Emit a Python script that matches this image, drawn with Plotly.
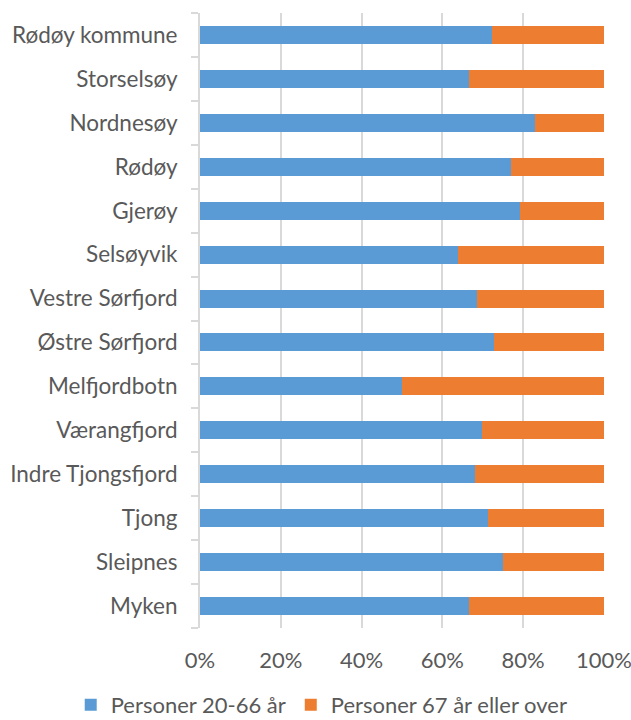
import plotly.graph_objects as go

categories = ["Rødøy kommune", "Storselsøy", "Nordnesøy", "Rødøy", "Gjerøy", "Selsøyvik",
              "Vestre Sørfjord", "Østre Sørfjord", "Melfjordbotn", "Værangfjord",
              "Indre Tjongsfjord", "Tjong", "Sleipnes", "Myken"]
working_age = [72.4, 66.7, 83.0, 77.1, 79.1, 63.8, 68.5, 72.7, 49.9, 69.7, 68.2, 71.2, 75.1, 66.7]
elderly = [round(100 - v, 1) for v in working_age]
series_names = ["Personer 20-66 år", "Personer 67 år eller over"]
x_ticks = [0, 20, 40, 60, 80, 100]
x_tick_labels = ["0%", "20%", "40%", "60%", "80%", "100%"]

FONT = "Lato, Carlito, 'Liberation Sans', sans-serif"
GRAY = "#595959"
GRID = "#d9d9d9"

fig = go.Figure()
fig.add_trace(go.Bar(y=categories, x=working_age, orientation="h", name=series_names[0],
                     legendgroup="a",
                     marker=dict(color="#5B9BD5", line=dict(width=0))))
fig.add_trace(go.Bar(y=categories, x=elderly, orientation="h", name=series_names[1],
                     legendgroup="b",
                     marker=dict(color="#ED7D31", line=dict(width=0))))

fig.update_layout(
    barmode="stack",
    bargap=0.59,
    width=631, height=720,
    margin=dict(l=200, r=27, t=13, b=92, autoexpand=False),
    paper_bgcolor="white", plot_bgcolor="white",
    font=dict(family=FONT, size=22, color=GRAY),
    legend=dict(orientation="h", xref="paper", x=-0.32, xanchor="left",
                yref="paper", y=-0.125, yanchor="middle",
                font=dict(size=22, color=GRAY), itemwidth=30,
                tracegroupgap=10, traceorder="normal"),
    xaxis=dict(range=[0, 100.02], tickvals=x_ticks, ticktext=x_tick_labels,
               showgrid=True, gridcolor=GRID, gridwidth=2, zeroline=False,
               showline=False, ticks="", ticklabelstandoff=17, ticklabeloverflow="allow",
               automargin=False, fixedrange=True),
    yaxis=dict(categoryorder="array", categoryarray=categories[::-1],
               showline=True, linecolor=GRID, linewidth=2,
               ticks="outside", tickson="boundaries", ticklen=7, tickcolor=GRID, tickwidth=2,
               ticklabelstandoff=16, tickfont=dict(size=22.5),
               showgrid=False, automargin=False, fixedrange=True),
)

fig.write_html("out.html", config={"displayModeBar": False},
               post_script="document.body.style.margin='0';")
